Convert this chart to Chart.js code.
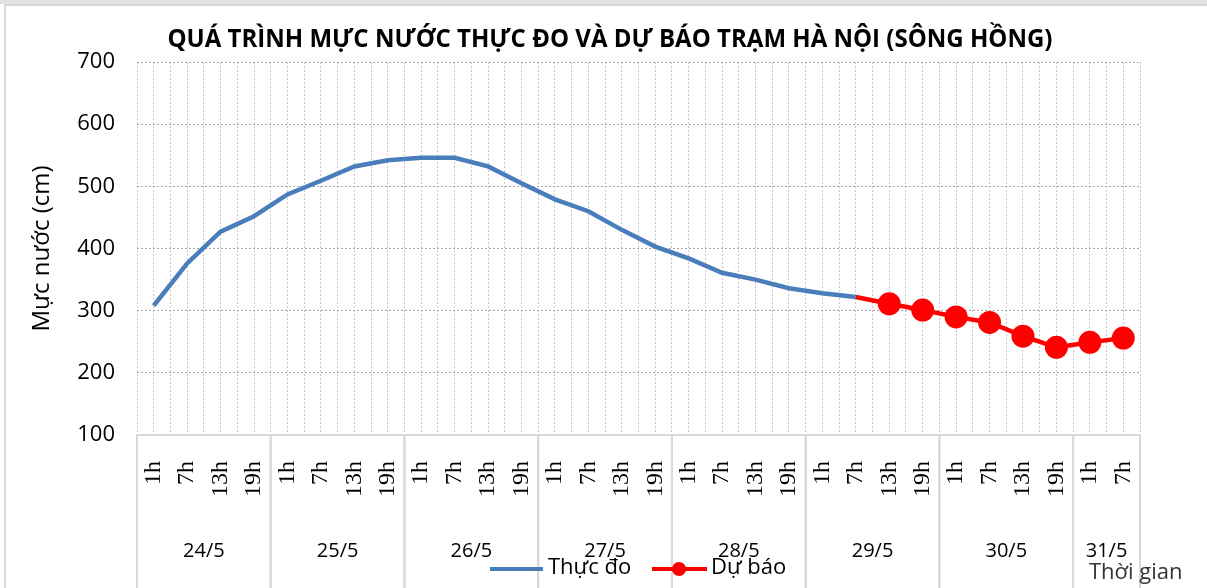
<!DOCTYPE html>
<html>
<head>
<meta charset="utf-8">
<script src="https://cdn.jsdelivr.net/npm/chart.js@4/dist/chart.umd.min.js"></script>
<style>
  html, body { margin: 0; padding: 0; background: #fff; }
  #wrap { width: 1207px; height: 588px; }
</style>
</head>
<body>
<div id="wrap"><canvas id="chart" width="1207" height="588"></canvas></div>
<script>
// Categories: hour of day, grouped by date
const hourLabels = [
  '1h', '7h', '13h', '19h', '1h', '7h', '13h', '19h', '1h', '7h', '13h', '19h',
  '1h', '7h', '13h', '19h', '1h', '7h', '13h', '19h', '1h', '7h', '13h', '19h',
  '1h', '7h', '13h', '19h', '1h', '7h'
];
const dayLabels = ['24/5', '25/5', '26/5', '27/5', '28/5', '29/5', '30/5', '31/5'];
const hoursPerDay = 4;

// Water level (cm)
const measured = [
  308, 376, 427, 452, 487, 509, 532, 542, 546, 546, 532, 505,
  479, 460, 430, 403, 384, 361, 350, 336, 328, 322,
  null, null, null, null, null, null, null, null
];
const forecast = [
  null, null, null, null, null, null, null, null, null, null, null, null,
  null, null, null, null, null, null, null, null, null, 322,
  311, 301, 290, 281, 259, 241, 249, 256
];

const yTicks = [100, 200, 300, 400, 500, 600, 700];

const chartTitle = 'QUÁ TRÌNH MỰC NƯỚC THỰC ĐO VÀ DỰ BÁO TRẠM HÀ NỘI (SÔNG HỒNG)';
const blue = '#4a7ebb';
const red = '#ff0000';

// Extra drawing: frame, title, date groups, legend
const decorations = {
  id: 'decorations',
  beforeDraw(chart) {
    const c = chart.ctx;
    c.save();
    c.fillStyle = '#fff';
    c.fillRect(0, 0, chart.width, chart.height);
    c.fillStyle = '#e3e3e3';
    c.fillRect(0, 0, chart.width, 4);
    c.strokeStyle = '#d9d9d9';
    c.lineWidth = 2;
    c.strokeRect(5, 5, chart.width + 10, chart.height + 10);
    c.restore();
  },
  afterDraw(chart) {
    const c = chart.ctx;
    const x = chart.scales.x;
    const area = chart.chartArea;
    c.save();

    // title (squeezed a little to match the narrow original face)
    c.font = 'bold 25px "Open Sans"';
    c.fillStyle = '#000';
    c.textAlign = 'center';
    c.textBaseline = 'middle';
    const tw = c.measureText(chartTitle).width;
    const sx = Math.min(1, 885 / tw);
    c.save();
    c.translate(610, 40);
    c.scale(sx, 1);
    c.fillText(chartTitle, 0, 0);
    c.restore();

    // day separators and date labels
    const n = hourLabels.length;
    const edge = (i) => {
      if (i <= 0) return area.left;
      if (i >= n) return area.right;
      return (x.getPixelForValue(i - 1) + x.getPixelForValue(i)) / 2;
    };
    c.strokeStyle = '#d9d9d9';
    c.lineWidth = 2;
    c.font = '20px "Open Sans"';
    c.fillStyle = '#000';
    dayLabels.forEach((d, k) => {
      const a = k * hoursPerDay;
      const b = Math.min(a + hoursPerDay, n);
      const x0 = edge(a), x1 = edge(b);
      c.beginPath();
      c.moveTo(x0, area.bottom);
      c.lineTo(x0, chart.height);
      c.moveTo(x1, area.bottom);
      c.lineTo(x1, chart.height);
      c.stroke();
      c.fillText(d, (x0 + x1) / 2, 551);
    });

    // legend
    c.font = '22px "Open Sans"';
    c.textAlign = 'left';
    c.lineWidth = 4;
    c.strokeStyle = blue;
    c.beginPath();
    c.moveTo(490, 569);
    c.lineTo(543, 569);
    c.stroke();
    c.fillStyle = '#000';
    c.fillText('Thực đo', 548, 568);
    c.strokeStyle = red;
    c.beginPath();
    c.moveTo(652, 569);
    c.lineTo(707, 569);
    c.stroke();
    c.fillStyle = red;
    c.beginPath();
    c.arc(679, 569, 7, 0, Math.PI * 2);
    c.fill();
    c.fillStyle = '#000';
    c.fillText('Dự báo', 711, 568);

    // axis name
    c.fillStyle = '#333';
    c.fillText('Thời gian', 1089, 573);
    c.restore();
  }
};

const ctx = document.getElementById('chart').getContext('2d');

const chart = new Chart(ctx, {
  type: 'line',
  data: {
    labels: hourLabels,
    datasets: [
      {
        label: 'Thực đo',
        data: measured,
        borderColor: blue,
        backgroundColor: blue,
        borderWidth: 4.5,
        pointRadius: 0,
        tension: 0,
        order: 2,
      },
      {
        label: 'Dự báo',
        data: forecast,
        borderColor: red,
        backgroundColor: red,
        borderWidth: 4.5,
        pointRadius: (p) => (p.dataIndex === 21 ? 0 : 11.5),
        pointBorderWidth: 0,
        tension: 0,
        order: 1,
      },
    ],
  },
  options: {
    responsive: false,
    animation: false,
    layout: { padding: { top: 62, right: 67, left: 0, bottom: 0 } },
    plugins: {
      legend: { display: false },
      title: { display: false },
      tooltip: { enabled: false },
    },
    scales: {
      x: {
        type: 'category',
        offset: true,
        grid: { offset: true, color: '#c8c8c8', drawTicks: false },
        border: { display: true, color: '#d9d9d9', width: 2, dash: [2, 2] },
        ticks: {
          autoSkip: false,
          minRotation: 90,
          maxRotation: 90,
          padding: 26,
          color: '#000',
          font: { family: '"Liberation Serif"', size: 24 },
        },
        afterFit: (s) => { s.height = 153; },
      },
      x2: {
        type: 'category',
        position: 'top',
        offset: true,
        grid: { offset: false, color: '#c8c8c8', drawTicks: false },
        border: { display: false, dash: [2, 2] },
        ticks: { display: false },
        afterFit: (s) => { s.height = 0; },
      },
      y: {
        min: 100,
        max: 700,
        afterBuildTicks: (s) => { s.ticks = yTicks.map((v) => ({ value: v })); },
        grid: { color: '#a6a6a6', drawTicks: false },
        border: { display: false, dash: [2, 2] },
        ticks: {
          padding: 22,
          color: '#000',
          font: { family: '"Open Sans"', size: 22 },
        },
        title: {
          display: true,
          text: 'Mực nước (cm)',
          color: '#000',
          font: { family: '"Open Sans"', size: 24 },
          padding: { top: 28, bottom: 0 },
        },
        afterFit: (s) => { s.width = 137; },
      },
    },
  },
  plugins: [decorations],
});
</script>
</body>
</html>
